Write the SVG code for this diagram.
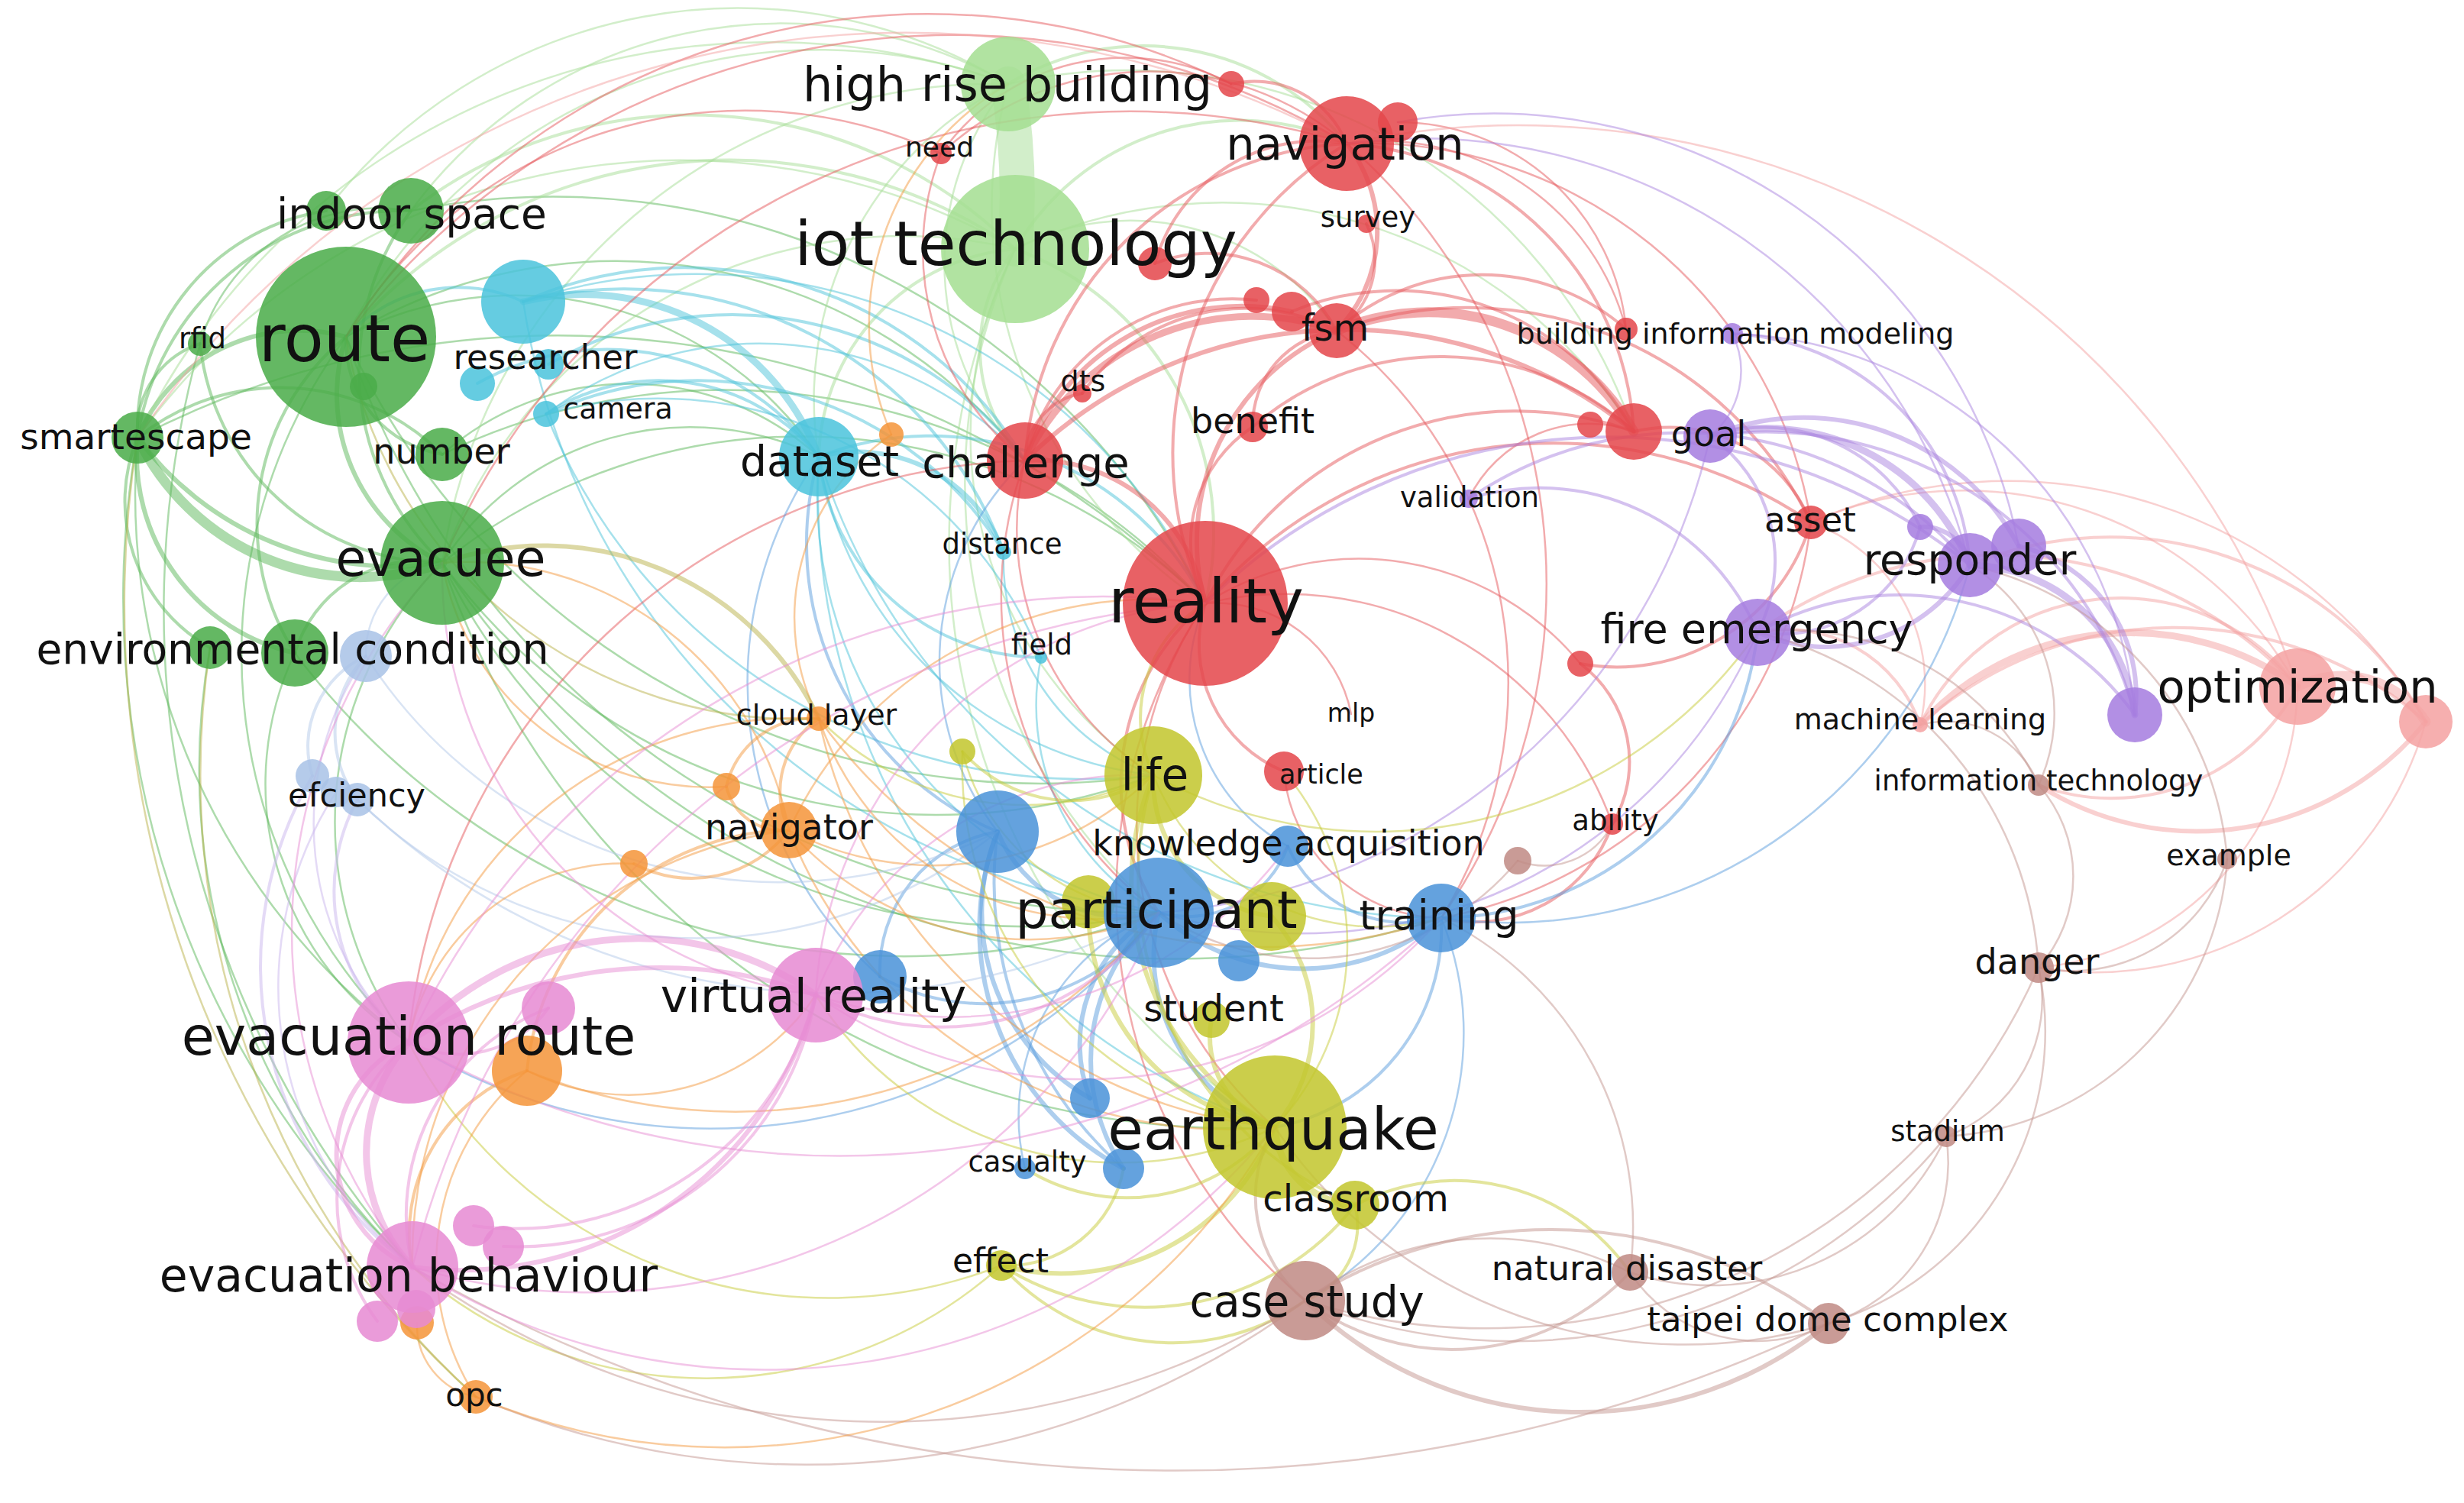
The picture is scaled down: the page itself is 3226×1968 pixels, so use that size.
<svg xmlns="http://www.w3.org/2000/svg" width="3226" height="1968" viewBox="0 0 3226 1968">
<style>
#connectors{fill:none;stroke-linecap:round;stroke-opacity:.5}
.cg{stroke:#5cb85a}.clg{stroke:#a6de95}.cc{stroke:#4dc4da}.cr{stroke:#e5575b}.clr{stroke:#f3a1a1}
.cp{stroke:#a983e0}.cb{stroke:#5b9ddd}.clb{stroke:#b3c9ea}.clv{stroke:#c9b6ee}.cy{stroke:#c8cc3a}
.cbr{stroke:#c3958f}.co{stroke:#f39a40}.col{stroke:#b9b24a}.cpk{stroke:#e88ed4}
.t1{stroke-width:2.5}.t2{stroke-width:4}.t3{stroke-width:6}.t4{stroke-width:9}.t5{stroke-width:13}.tb{stroke-width:46}
circle{fill-opacity:.86}
.fr{fill:#e4474c}.fg{fill:#4aac49}.fb{fill:#4b93d8}.fy{fill:#c2c62d}.fp{fill:#a57ddf}.fc{fill:#4cc4dc}
.fo{fill:#f4953a}.fbr{fill:#c08b85}.fpk{fill:#e68ad3}.flr{fill:#f5a2a2}.flg{fill:#a4de91}.flb{fill:#a9c3e6}
text{font-family:"DejaVu Sans",Verdana,sans-serif;fill:#111;text-anchor:middle}
</style>
<rect width="3226" height="1968" fill="#fff"/>
<g id="connectors">
<g class="cg">
<path class="t5" d="M579 737A323 323 0 0 1 180 573"/>
<path class="t3" d="M579 737A420 420 0 0 1 180 573"/>
<path class="t3" d="M180 573A230 230 0 0 1 453 441"/>
<path class="t2" d="M180 573A350 350 0 0 1 538 276"/>
<path class="t2" d="M180 573A120 120 0 0 1 262 450"/>
<path class="t2" d="M180 573A300 300 0 0 1 579 595"/>
<path class="t3" d="M386 855A265 265 0 0 1 180 573"/>
<path class="t2" d="M275 848A220 220 0 0 1 180 573"/>
<path class="t2" d="M579 737A320 320 0 0 1 262 450"/>
<path class="t3" d="M579 737A245 245 0 0 1 453 441"/>
<path class="t2" d="M386 855A315 315 0 0 1 453 441"/>
<path class="t2" d="M579 737A350 350 0 0 1 538 276"/>
<path class="t1" d="M535 1365A900 900 0 0 1 180 573"/>
<path class="t1" d="M540 1659A1300 1300 0 0 1 262 450"/>
<path class="t1" d="M540 1659A900 900 0 0 1 275 848"/>
<path class="t1" d="M535 1365A400 400 0 0 1 386 855"/>
<path class="t1" d="M535 1365A700 700 0 0 1 453 441"/>
<path class="t1" d="M535 1365A480 480 0 0 1 579 737"/>
<path class="t1" d="M579 737A385 385 0 0 1 1072 598"/>
<path class="t1" d="M453 441A480 480 0 0 1 1072 598"/>
<path class="t1" d="M453 441A680 680 0 0 1 1342 603"/>
<path class="t1" d="M579 737A750 750 0 0 1 1578 790"/>
<path class="t1" d="M579 595A370 370 0 0 1 1072 598"/>
<path class="t1" d="M540 1659A1200 1200 0 0 1 180 573"/>
<path class="t2" d="M180 573A290 290 0 0 1 427 276"/>
<path class="t1" d="M262 450A245 245 0 0 1 538 276"/>
<path class="t2" d="M579 595A150 150 0 0 1 453 441"/>
<path class="t2" d="M386 855A170 170 0 0 1 579 737"/>
<path class="t1" d="M1517 1195A850 850 0 0 1 579 737"/>
<path class="t1" d="M1510 1015A1000 1000 0 0 1 453 441"/>
<path class="t1" d="M1510 1015A800 800 0 0 1 579 737"/>
<path class="t1" d="M579 595A850 850 0 0 1 1578 790"/>
<path class="t1" d="M538 276A950 950 0 0 1 1578 790"/>
<path class="t1" d="M1887 1202A1150 1150 0 0 1 579 737"/>
<path class="t1" d="M1517 1195A1000 1000 0 0 1 386 855"/>
<path class="t1" d="M1517 1195A1100 1100 0 0 1 453 441"/>
<path class="t1" d="M1669 1476A1100 1100 0 0 1 579 737"/>
<path class="t1" d="M180 573A1200 1200 0 0 1 1578 790"/>
</g>
<g class="clg">
<path class="tb" d="M1320 110A900 900 0 0 1 1329 326"/>
<path class="t2" d="M538 276A600 600 0 0 1 1329 326"/>
<path class="t2" d="M453 441A660 660 0 0 1 1329 326"/>
<path class="t1" d="M538 276A600 600 0 0 1 1320 110"/>
<path class="t1" d="M180 573A920 920 0 0 1 1320 110"/>
<path class="t1" d="M579 737A640 640 0 0 1 1329 326"/>
<path class="t2" d="M1342 603A210 210 0 0 1 1329 326"/>
<path class="t2" d="M1072 598A280 280 0 0 1 1329 326"/>
<path class="t2" d="M1329 326A395 395 0 0 1 1578 790"/>
<path class="t2" d="M1320 110A340 340 0 0 1 1763 188"/>
<path class="t2" d="M1329 326A340 340 0 0 1 1763 188"/>
<path class="t1" d="M1510 1015A535 535 0 0 1 1329 326"/>
<path class="t1" d="M1329 326A325 325 0 0 1 1750 433"/>
<path class="t1" d="M453 441A700 700 0 0 1 1320 110"/>
<path class="t1" d="M579 737A730 730 0 0 1 1320 110"/>
<path class="t1" d="M1669 1476A900 900 0 0 1 1329 326"/>
<path class="t1" d="M1342 603A370 370 0 0 1 1320 110"/>
<path class="t1" d="M1329 326A635 635 0 0 1 2139 565"/>
<path class="t1" d="M1320 110A700 700 0 0 1 2139 565"/>
<path class="t1" d="M180 573A880 880 0 0 1 1329 326"/>
<path class="t1" d="M427 276A680 680 0 0 1 1320 110"/>
<path class="t1" d="M1072 598A460 460 0 0 1 1320 110"/>
<path class="t1" d="M1517 1195A750 750 0 0 1 1329 326"/>
<path class="t1" d="M1578 790A620 620 0 0 1 1320 110"/>
</g>
<g class="cc">
<path class="t4" d="M685 395A330 330 0 0 1 1072 598"/>
<path class="t2" d="M685 395A520 520 0 0 1 1342 603"/>
<path class="t2" d="M625 502A345 345 0 0 1 1072 598"/>
<path class="t2" d="M715 542A270 270 0 0 1 1072 598"/>
<path class="t3" d="M1072 598A205 205 0 0 1 1314 723"/>
<path class="t2" d="M685 395A530 530 0 0 1 1314 723"/>
<path class="t2" d="M1363 861A295 295 0 0 1 1072 598"/>
<path class="t2" d="M715 542A470 470 0 0 1 1314 723"/>
<path class="t2" d="M718 477A480 480 0 0 1 1342 603"/>
<path class="t1" d="M715 542A470 470 0 0 1 1342 603"/>
<path class="t1" d="M685 395A730 730 0 0 1 1578 790"/>
<path class="t1" d="M1517 1195A560 560 0 0 1 1072 598"/>
<path class="t2" d="M1072 598A405 405 0 0 1 1578 790"/>
<path class="t1" d="M715 542A540 540 0 0 1 1363 861"/>
<path class="t2" d="M453 441A200 200 0 0 1 685 395"/>
<path class="t1" d="M1510 1015A500 500 0 0 1 1072 598"/>
<path class="t1" d="M1517 1195A950 950 0 0 1 685 395"/>
<path class="t1" d="M1510 1015A760 760 0 0 1 715 542"/>
<path class="t1" d="M1669 1476A880 880 0 0 1 1072 598"/>
<path class="t1" d="M1517 1195A310 310 0 0 1 1363 861"/>
<path class="t1" d="M1510 1015A300 300 0 0 1 1314 723"/>
<path class="t1" d="M1887 1202A860 860 0 0 1 1072 598"/>
</g>
<g class="cr">
<path class="t3" d="M1763 188A185 185 0 0 1 1750 433"/>
<path class="t5" d="M1750 433A310 310 0 0 1 2139 565"/>
<path class="t4" d="M1342 603A330 330 0 0 1 1750 433"/>
<path class="t3" d="M1578 790A300 300 0 0 1 1750 433"/>
<path class="t2" d="M1342 603A445 445 0 0 1 1763 188"/>
<path class="t2" d="M1578 790A475 475 0 0 1 1763 188"/>
<path class="t3" d="M1342 603A300 300 0 0 1 1691 408"/>
<path class="t2" d="M1342 603A280 280 0 0 1 1645 393"/>
<path class="t3" d="M1342 603A225 225 0 0 1 1578 790"/>
<path class="t2" d="M1342 603A90 90 0 0 1 1417 515"/>
<path class="t2" d="M1417 515A260 260 0 0 1 1750 433"/>
<path class="t2" d="M1640 559A125 125 0 0 1 1750 433"/>
<path class="t2" d="M1578 790A180 180 0 0 1 1640 559"/>
<path class="t2" d="M1578 790A455 455 0 0 1 2139 565"/>
<path class="t2" d="M2139 565A200 200 0 0 1 2371 684"/>
<path class="t2" d="M1578 790A600 600 0 0 1 2371 684"/>
<path class="t2" d="M2371 684A265 265 0 0 1 2069 869"/>
<path class="t2" d="M2069 869A160 160 0 0 1 2111 1079"/>
<path class="t2" d="M2111 1079A190 190 0 0 1 1887 1202"/>
<path class="t2" d="M1681 1010A180 180 0 0 1 1578 790"/>
<path class="t1" d="M1232 201A295 295 0 0 1 1612 110"/>
<path class="t1" d="M453 441A610 610 0 0 1 1232 201"/>
<path class="t2" d="M1612 110A130 130 0 0 1 1763 188"/>
<path class="t2" d="M1512 345A190 190 0 0 1 1750 433"/>
<path class="t2" d="M1512 345A220 220 0 0 1 1763 188"/>
<path class="t2" d="M1789 293A110 110 0 0 1 1750 433"/>
<path class="t2" d="M1763 188A400 400 0 0 1 2139 565"/>
<path class="t1" d="M1830 160A300 300 0 0 1 2129 431"/>
<path class="t1" d="M1763 188A590 590 0 0 1 2371 684"/>
<path class="t3" d="M1342 603A600 600 0 0 1 2139 565"/>
<path class="t2" d="M1640 559A375 375 0 0 1 2139 565"/>
<path class="t2" d="M1691 408A355 355 0 0 1 2139 565"/>
<path class="t1" d="M1578 790A375 375 0 0 1 2069 869"/>
<path class="t1" d="M1578 790A180 180 0 0 1 1769 935"/>
<path class="t1" d="M1887 1202A210 210 0 0 1 1681 1010"/>
<path class="t1" d="M1923 653A175 175 0 0 1 2139 565"/>
<path class="t2" d="M1750 433A285 285 0 0 1 2129 431"/>
<path class="t1" d="M1763 188A330 330 0 0 1 2129 431"/>
<path class="t1" d="M1669 1476A520 520 0 0 1 1578 790"/>
<path class="t2" d="M1517 1195A310 310 0 0 1 1578 790"/>
<path class="t1" d="M1709 1703A690 690 0 0 1 1578 790"/>
<path class="t1" d="M1750 433A585 585 0 0 1 1887 1202"/>
<path class="t1" d="M1763 188A765 765 0 0 1 1887 1202"/>
<path class="t1" d="M453 441A900 900 0 0 1 1612 110"/>
<path class="t1" d="M579 737A980 980 0 0 1 1763 188"/>
<path class="t1" d="M535 1365A835 835 0 0 1 1342 603"/>
<path class="t1" d="M453 441A1000 1000 0 0 1 1763 188"/>
<path class="t1" d="M1578 790A455 455 0 0 1 2111 1079"/>
<path class="t2" d="M1750 433A500 500 0 0 1 2371 684"/>
<path class="t1" d="M1232 201A400 400 0 0 1 1763 188"/>
<path class="t1" d="M1517 1195A520 520 0 0 1 1342 603"/>
<path class="t1" d="M1510 1015A380 380 0 0 1 1342 603"/>
<path class="t1" d="M1342 603A350 350 0 0 1 1232 201"/>
<path class="t1" d="M2371 684A600 600 0 0 1 1887 1202"/>
</g>
<g class="clr">
<path class="t1" d="M1763 188A1075 1075 0 0 1 3008 899"/>
<path class="t1" d="M2371 684A500 500 0 0 1 3008 899"/>
<path class="t5" d="M3008 899A130 130 0 0 1 3176 945"/>
<path class="t4" d="M2514 949A375 375 0 0 1 3008 899"/>
<path class="t2" d="M2514 949A290 290 0 0 1 3008 899"/>
<path class="t2" d="M2514 949A500 500 0 0 1 3176 945"/>
<path class="t3" d="M3176 945A385 385 0 0 1 2669 1028"/>
<path class="t2" d="M3008 899A275 275 0 0 1 2669 1028"/>
<path class="t2" d="M2301 828A535 535 0 0 1 3008 899"/>
<path class="t2" d="M2579 740A475 475 0 0 1 3176 945"/>
<path class="t2" d="M2301 828A185 185 0 0 1 2514 949"/>
<path class="t1" d="M2371 684A225 225 0 0 1 2514 949"/>
<path class="t1" d="M3008 899A375 375 0 0 1 2669 1267"/>
<path class="t1" d="M3176 945A450 450 0 0 1 2669 1267"/>
<path class="t1" d="M2371 684A635 635 0 0 1 3176 945"/>
<path class="t1" d="M180 573A1220 1220 0 0 1 1763 188"/>
</g>
<g class="cp">
<path class="t4" d="M2239 571A285 285 0 0 1 2579 740"/>
<path class="t3" d="M2239 571A320 320 0 0 1 2643 715"/>
<path class="t2" d="M2239 571A200 200 0 0 1 2301 828"/>
<path class="t3" d="M2579 740A220 220 0 0 1 2301 828"/>
<path class="t4" d="M2579 740A220 220 0 0 1 2795 936"/>
<path class="t3" d="M2643 715A200 200 0 0 1 2795 936"/>
<path class="t2" d="M2301 828A380 380 0 0 1 2795 936"/>
<path class="t2" d="M2239 571A500 500 0 0 1 2795 936"/>
<path class="t3" d="M2514 690A62 62 0 0 1 2579 740"/>
<path class="t2" d="M2268 437A325 325 0 0 1 2579 740"/>
<path class="t2" d="M1923 653A495 495 0 0 1 2579 740"/>
<path class="t2" d="M1923 653A310 310 0 0 1 2301 828"/>
<path class="t1" d="M2268 437A545 545 0 0 1 2795 936"/>
<path class="t2" d="M1578 790A750 750 0 0 1 2579 740"/>
<path class="t1" d="M2301 828A650 650 0 0 1 1517 1195"/>
<path class="t2" d="M2239 571A225 225 0 0 1 2514 690"/>
<path class="t2" d="M2514 690A190 190 0 0 1 2301 828"/>
<path class="t1" d="M1763 188A740 740 0 0 1 2579 740"/>
<path class="t1" d="M1830 160A700 700 0 0 1 2643 715"/>
<path class="t1" d="M2268 437A110 110 0 0 1 2239 571"/>
<path class="t1" d="M2239 571A800 800 0 0 1 1517 1195"/>
</g>
<g class="cb">
<path class="t3" d="M1517 1195A180 180 0 0 1 1306 1089"/>
<path class="t3" d="M1887 1202A280 280 0 0 1 1517 1195"/>
<path class="t2" d="M1686 1108A140 140 0 0 1 1517 1195"/>
<path class="t3" d="M1669 1476A240 240 0 0 1 1517 1195"/>
<path class="t3" d="M1427 1438A195 195 0 0 1 1517 1195"/>
<path class="t3" d="M1471 1530A255 255 0 0 1 1517 1195"/>
<path class="t3" d="M1427 1438A280 280 0 0 1 1306 1089"/>
<path class="t3" d="M1471 1530A355 355 0 0 1 1306 1089"/>
<path class="t2" d="M1471 1530A500 500 0 0 1 1306 1089"/>
<path class="t2" d="M1517 1195A280 280 0 0 1 1152 1279"/>
<path class="t2" d="M1152 1279A185 185 0 0 1 1306 1089"/>
<path class="t2" d="M1887 1202A170 170 0 0 1 1686 1108"/>
<path class="t2" d="M2301 828A420 420 0 0 1 1887 1202"/>
<path class="t1" d="M2579 740A625 625 0 0 1 1887 1202"/>
<path class="t2" d="M1887 1202A265 265 0 0 1 1669 1476"/>
<path class="t1" d="M1517 1195A750 750 0 0 1 535 1365"/>
<path class="t2" d="M1306 1089A410 410 0 0 1 1072 598"/>
<path class="t1" d="M1342 1530A285 285 0 0 1 1517 1195"/>
<path class="t1" d="M1887 1202A400 400 0 0 1 1709 1703"/>
<path class="t1" d="M1686 1108A250 250 0 0 1 1578 790"/>
<path class="t1" d="M1306 1089A365 365 0 0 1 1342 603"/>
<path class="t1" d="M1152 1279A515 515 0 0 1 1072 598"/>
</g>
<g class="clb">
<path class="t1" d="M1306 1089A645 645 0 0 1 479 859"/>
<path class="t1" d="M1306 1089A630 630 0 0 1 468 1047"/>
<path class="t2" d="M409 1016A130 130 0 0 1 479 859"/>
<path class="t2" d="M468 1047A145 145 0 0 1 479 859"/>
<path class="t1" d="M479 859A120 120 0 0 1 579 737"/>
<path class="t1" d="M1517 1195A900 900 0 0 1 468 1047"/>
</g>
<g class="clv">
<path class="t2" d="M535 1365A250 250 0 0 1 468 1047"/>
<path class="t2" d="M540 1659A490 490 0 0 1 409 1016"/>
<path class="t1" d="M535 1365A390 390 0 0 1 479 859"/>
<path class="t1" d="M540 1659A470 470 0 0 1 440 1037"/>
</g>
<g class="cy">
<path class="t4" d="M1774 1578A110 110 0 0 1 1669 1476"/>
<path class="t3" d="M1669 1476A365 365 0 0 1 1510 1015"/>
<path class="t3" d="M1665 1200A210 210 0 0 1 1669 1476"/>
<path class="t3" d="M1669 1476A125 125 0 0 1 1586 1335"/>
<path class="t3" d="M1669 1476A300 300 0 0 1 1311 1657"/>
<path class="t2" d="M1774 1578A350 350 0 0 1 1311 1657"/>
<path class="t2" d="M1709 1703A300 300 0 0 1 1311 1657"/>
<path class="t1" d="M1311 1657A580 580 0 0 1 540 1659"/>
<path class="t3" d="M1665 1200A180 180 0 0 1 1510 1015"/>
<path class="t2" d="M1510 1015A190 190 0 0 1 1260 984"/>
<path class="t1" d="M1669 1476A480 480 0 0 1 1260 984"/>
<path class="t3" d="M1669 1476A290 290 0 0 1 1425 1181"/>
<path class="t2" d="M1774 1578A465 465 0 0 1 1510 1015"/>
<path class="t2" d="M1669 1476A250 250 0 0 1 1342 1530"/>
<path class="t2" d="M1471 1530A155 155 0 0 1 1311 1657"/>
<path class="t2" d="M1774 1578A105 105 0 0 1 1709 1703"/>
<path class="t2" d="M1510 1015A175 175 0 0 1 1578 790"/>
<path class="t1" d="M1669 1476A470 470 0 0 1 1068 1303"/>
<path class="t1" d="M1311 1657A620 620 0 0 1 535 1365"/>
<path class="t1" d="M1887 1202A315 315 0 0 1 1510 1015"/>
<path class="t1" d="M1681 1010A350 350 0 0 1 1669 1476"/>
<path class="t1" d="M2301 828A610 610 0 0 1 1510 1015"/>
<path class="t2" d="M1774 1578A280 280 0 0 1 2134 1666"/>
<path class="t1" d="M1510 1015A380 380 0 0 1 1072 941"/>
<path class="t1" d="M1517 1195A280 280 0 0 1 1260 984"/>
</g>
<g class="cbr">
<path class="t1" d="M2669 1028A180 180 0 0 1 2669 1267"/>
<path class="t1" d="M2916 1125A215 215 0 0 1 2669 1267"/>
<path class="t1" d="M2669 1267A190 190 0 0 1 2548 1488"/>
<path class="t1" d="M2548 1488A220 220 0 0 1 2394 1733"/>
<path class="t1" d="M2548 1488A340 340 0 0 1 2134 1666"/>
<path class="t3" d="M2394 1733A515 515 0 0 1 1709 1703"/>
<path class="t2" d="M1709 1703A600 600 0 0 1 2394 1733"/>
<path class="t2" d="M2134 1666A320 320 0 0 1 1709 1703"/>
<path class="t1" d="M1709 1703A400 400 0 0 1 2134 1666"/>
<path class="t1" d="M2394 1733A200 200 0 0 1 2134 1666"/>
<path class="t1" d="M1709 1703A1040 1040 0 0 1 540 1659"/>
<path class="t1" d="M2394 1733A2000 2000 0 0 1 540 1659"/>
<path class="t2" d="M1709 1703A175 175 0 0 1 1669 1476"/>
<path class="t1" d="M1709 1703A1100 1100 0 0 1 623 1829"/>
<path class="t1" d="M2669 1267A400 400 0 0 1 2394 1733"/>
<path class="t1" d="M2111 1079A100 100 0 0 1 1987 1127"/>
<path class="t1" d="M1987 1127A355 355 0 0 1 1517 1195"/>
<path class="t1" d="M2579 740A225 225 0 0 1 2669 1028"/>
<path class="t1" d="M2514 949A130 130 0 0 1 2669 1028"/>
<path class="t1" d="M2916 1125A390 390 0 0 1 2548 1488"/>
<path class="t1" d="M2669 1267A790 790 0 0 1 1709 1703"/>
<path class="t1" d="M2301 828A360 360 0 0 1 2669 1028"/>
<path class="t1" d="M2301 828A480 480 0 0 1 2669 1267"/>
<path class="t1" d="M2579 740A430 430 0 0 1 2916 1125"/>
<path class="t1" d="M2394 1733A650 650 0 0 1 1669 1476"/>
<path class="t1" d="M1887 1202A450 450 0 0 1 2134 1666"/>
<path class="t1" d="M2548 1488A730 730 0 0 1 1709 1703"/>
</g>
<g class="co">
<path class="t1" d="M579 737A430 430 0 0 1 1033 1087"/>
<path class="t2" d="M1033 1087A115 115 0 0 1 1072 941"/>
<path class="t2" d="M1033 1087A75 75 0 0 1 951 1030"/>
<path class="t2" d="M951 1030A115 115 0 0 1 1072 941"/>
<path class="t2" d="M1033 1087A160 160 0 0 1 830 1131"/>
<path class="t2" d="M690 1402A350 350 0 0 1 1033 1087"/>
<path class="t1" d="M535 1365A515 515 0 0 1 1072 941"/>
<path class="t1" d="M1072 941A290 290 0 0 1 1167 569"/>
<path class="t1" d="M1167 569A365 365 0 0 1 1320 110"/>
<path class="t1" d="M623 1829A325 325 0 0 1 690 1402"/>
<path class="t1" d="M623 1829A95 95 0 0 1 546 1732"/>
<path class="t1" d="M1669 1476A830 830 0 0 1 623 1829"/>
<path class="t2" d="M540 1659A225 225 0 0 1 690 1402"/>
<path class="t1" d="M540 1659A565 565 0 0 1 1033 1087"/>
<path class="t1" d="M1068 1303A295 295 0 0 1 690 1402"/>
<path class="t1" d="M535 1365A285 285 0 0 1 830 1131"/>
<path class="t1" d="M1517 1195A385 385 0 0 1 1072 941"/>
<path class="t1" d="M951 1030A355 355 0 0 1 579 737"/>
<path class="t1" d="M1517 1195A420 420 0 0 1 1033 1087"/>
<path class="t1" d="M1510 1015A410 410 0 0 1 1033 1087"/>
<path class="t1" d="M1887 1202A720 720 0 0 1 1072 941"/>
<path class="t1" d="M1669 1476A620 620 0 0 1 1033 1087"/>
<path class="t1" d="M1033 1087A520 520 0 0 1 1578 790"/>
<path class="t1" d="M1517 1195A720 720 0 0 1 690 1402"/>
<path class="t1" d="M1669 1476A680 680 0 0 1 1072 941"/>
</g>
<g class="col">
<path class="t3" d="M579 737A400 400 0 0 1 1072 941"/>
<path class="t1" d="M1072 941A600 600 0 0 1 453 441"/>
<path class="t1" d="M623 1829A1400 1400 0 0 1 180 573"/>
<path class="t1" d="M623 1829A1100 1100 0 0 1 275 848"/>
</g>
<g class="cpk">
<path class="t4" d="M540 1659A216 216 0 0 1 535 1365"/>
<path class="t3" d="M540 1659A160 160 0 0 1 535 1365"/>
<path class="t4" d="M535 1365A400 400 0 0 1 1068 1303"/>
<path class="t3" d="M535 1365A600 600 0 0 1 1068 1303"/>
<path class="t3" d="M1068 1303A480 480 0 0 1 540 1659"/>
<path class="t2" d="M1068 1303A405 405 0 0 1 620 1605"/>
<path class="t2" d="M1068 1303A395 395 0 0 1 659 1632"/>
<path class="t2" d="M718 1320A145 145 0 0 1 535 1365"/>
<path class="t2" d="M540 1659A290 290 0 0 1 718 1320"/>
<path class="t2" d="M494 1730A270 270 0 0 1 535 1365"/>
<path class="t2" d="M1517 1195A345 345 0 0 1 1068 1303"/>
<path class="t1" d="M1517 1195A810 810 0 0 1 540 1659"/>
<path class="t1" d="M1669 1476A860 860 0 0 1 540 1659"/>
<path class="t1" d="M1068 1303A545 545 0 0 1 1578 790"/>
<path class="t1" d="M1887 1202A620 620 0 0 1 1068 1303"/>
<path class="t1" d="M540 1659A690 690 0 0 1 579 737"/>
<path class="t1" d="M1068 1303A560 560 0 0 1 579 737"/>
<path class="t1" d="M1068 1303A450 450 0 0 1 1510 1015"/>
<path class="t1" d="M535 1365A1000 1000 0 0 1 1578 790"/>
<path class="t1" d="M1887 1202A1150 1150 0 0 1 535 1365"/>
<path class="t1" d="M1686 1108A550 550 0 0 1 1068 1303"/>
<path class="t1" d="M540 1659A1150 1150 0 0 1 1578 790"/>
</g>
</g>
<g id="nodes">
<g id="node-nav2"><circle class="fr" cx="1830" cy="160" r="26"/></g>
<g id="node-fsm2"><circle class="fr" cx="1691" cy="408" r="26"/></g>
<g id="node-fsm3"><circle class="fr" cx="1645" cy="393" r="17"/></g>
<g id="node-goal-red"><circle class="fr" cx="2139" cy="565" r="37"/></g>
<g id="node-goal-red2"><circle class="fr" cx="2082" cy="556" r="17"/></g>
<g id="node-hrb-red"><circle class="fr" cx="1612" cy="110" r="17"/></g>
<g id="node-iot-red"><circle class="fr" cx="1512" cy="345" r="22"/></g>
<g id="node-bim-red"><circle class="fr" cx="2129" cy="431" r="15"/></g>
<g id="node-fire-red"><circle class="fr" cx="2069" cy="869" r="17"/></g>
<g id="node-route-in"><circle class="fg" cx="476" cy="506" r="18"/></g>
<g id="node-indoor2"><circle class="fg" cx="427" cy="276" r="26"/></g>
<g id="node-env2"><circle class="fg" cx="275" cy="848" r="28"/></g>
<g id="node-blue-big"><circle class="fb" cx="1306" cy="1089" r="54"/></g>
<g id="node-blue4"><circle class="fb" cx="1622" cy="1258" r="27"/></g>
<g id="node-vr-blue"><circle class="fb" cx="1152" cy="1279" r="35"/></g>
<g id="node-blue-eq"><circle class="fb" cx="1427" cy="1438" r="26"/></g>
<g id="node-casualty-b"><circle class="fb" cx="1471" cy="1530" r="27"/></g>
<g id="node-part-y"><circle class="fy" cx="1665" cy="1200" r="45"/></g>
<g id="node-part-y2"><circle class="fy" cx="1425" cy="1181" r="35"/></g>
<g id="node-yg-small"><circle class="fy" cx="1260" cy="984" r="17"/></g>
<g id="node-resp2"><circle class="fp" cx="2643" cy="715" r="36"/></g>
<g id="node-resp3"><circle class="fp" cx="2514" cy="690" r="17"/></g>
<g id="node-opt-p"><circle class="fp" cx="2795" cy="936" r="36"/></g>
<g id="node-res-big"><circle class="fc" cx="685" cy="395" r="55"/></g>
<g id="node-res2"><circle class="fc" cx="625" cy="502" r="23"/></g>
<g id="node-ds-orange"><circle class="fo" cx="1167" cy="569" r="16"/></g>
<g id="node-orange2"><circle class="fo" cx="951" cy="1030" r="18"/></g>
<g id="node-orange3"><circle class="fo" cx="830" cy="1131" r="18"/></g>
<g id="node-er-orange"><circle class="fo" cx="690" cy="1402" r="46"/></g>
<g id="node-eb-orange"><circle class="fo" cx="546" cy="1732" r="22"/></g>
<g id="node-brown-small"><circle class="fbr" cx="1987" cy="1127" r="18"/></g>
<g id="node-er2"><circle class="fpk" cx="718" cy="1320" r="35"/></g>
<g id="node-eb2"><circle class="fpk" cx="620" cy="1605" r="27"/></g>
<g id="node-eb3"><circle class="fpk" cx="659" cy="1632" r="27"/></g>
<g id="node-eb4"><circle class="fpk" cx="494" cy="1730" r="27"/></g>
<g id="node-eb5"><circle class="fpk" cx="545" cy="1714" r="25"/></g>
<g id="node-opt2"><circle class="flr" cx="3176" cy="945" r="35"/></g>
<g id="node-env-lb"><circle class="flb" cx="479" cy="859" r="34"/></g>
<g id="node-ef1"><circle class="flb" cx="409" cy="1016" r="22"/></g>
<g id="node-ef2"><circle class="flb" cx="440" cy="1037" r="20"/></g>

<g id="node-route"><circle class="fg" cx="453" cy="441" r="118"/><text x="451" y="473" font-size="85">route</text></g>
<g id="node-reality"><circle class="fr" cx="1578" cy="790" r="108"/><text x="1579" y="815" font-size="81">reality</text></g>
<g id="node-iot-technology"><circle class="flg" cx="1329" cy="326" r="97"/><text x="1330" y="347" font-size="81">iot technology</text></g>
<g id="node-earthquake"><circle class="fy" cx="1669" cy="1476" r="94"/><text x="1667" y="1505" font-size="76">earthquake</text></g>
<g id="node-evacuee"><circle class="fg" cx="579" cy="737" r="81"/><text x="577" y="754" font-size="65">evacuee</text></g>
<g id="node-evacuation-route"><circle class="fpk" cx="535" cy="1365" r="80"/><text x="535" y="1381" font-size="70">evacuation route</text></g>
<g id="node-participant"><circle class="fb" cx="1517" cy="1195" r="72"/><text x="1514" y="1215" font-size="68">participant</text></g>
<g id="node-life"><circle class="fy" cx="1510" cy="1015" r="64"/><text x="1512" y="1035" font-size="58">life</text></g>
<g id="node-navigation"><circle class="fr" cx="1763" cy="188" r="62"/><text x="1761" y="209" font-size="59">navigation</text></g>
<g id="node-high-rise-building"><circle class="flg" cx="1320" cy="110" r="62"/><text x="1319" y="132" font-size="62">high rise building</text></g>
<g id="node-virtual-reality"><circle class="fpk" cx="1068" cy="1303" r="62"/><text x="1065" y="1325" font-size="60">virtual reality</text></g>
<g id="node-evacuation-behaviour"><circle class="fpk" cx="540" cy="1659" r="60"/><text x="535" y="1691" font-size="60">evacuation behaviour</text></g>
<g id="node-dataset"><circle class="fc" cx="1072" cy="598" r="52"/><text x="1073" y="623" font-size="55">dataset</text></g>
<g id="node-case-study"><circle class="fbr" cx="1709" cy="1703" r="52"/><text x="1711" y="1724" font-size="57">case study</text></g>
<g id="node-challenge"><circle class="fr" cx="1342" cy="603" r="50"/><text x="1343" y="625" font-size="56">challenge</text></g>
<g id="node-optimization"><circle class="flr" cx="3008" cy="899" r="50"/><text x="3008" y="920" font-size="59">optimization</text></g>
<g id="node-training"><circle class="fb" cx="1887" cy="1202" r="45"/><text x="1884" y="1217" font-size="54">training</text></g>
<g id="node-environmental-condition"><circle class="fg" cx="386" cy="855" r="44"/><text x="383" y="869" font-size="55">environmental condition</text></g>
<g id="node-fire-emergency"><circle class="fp" cx="2301" cy="828" r="44"/><text x="2300" y="842" font-size="54">fire emergency</text></g>
<g id="node-indoor-space"><circle class="fg" cx="538" cy="276" r="43"/><text x="539" y="299" font-size="55">indoor space</text></g>
<g id="node-responder"><circle class="fp" cx="2579" cy="740" r="42"/><text x="2579" y="752" font-size="55">responder</text></g>
<g id="node-navigator"><circle class="fo" cx="1033" cy="1087" r="37"/><text x="1033" y="1099" font-size="46">navigator</text></g>
<g id="node-fsm"><circle class="fr" cx="1750" cy="433" r="36"/><text x="1748" y="446" font-size="48">fsm</text></g>
<g id="node-number"><circle class="fg" cx="579" cy="595" r="35"/><text x="578" y="607" font-size="46">number</text></g>
<g id="node-goal"><circle class="fp" cx="2239" cy="571" r="35"/><text x="2237" y="584" font-size="46">goal</text></g>
<g id="node-smartescape"><circle class="fg" cx="180" cy="573" r="34"/><text x="178" y="588" font-size="47">smartescape</text></g>
<g id="node-classroom"><circle class="fy" cx="1774" cy="1578" r="32"/><text x="1775" y="1586" font-size="48">classroom</text></g>
<g id="node-knowledge-acquisition"><circle class="fb" cx="1686" cy="1108" r="27"/><text x="1687" y="1120" font-size="46">knowledge acquisition</text></g>
<g id="node-taipei-dome-complex"><circle class="fbr" cx="2394" cy="1733" r="27"/><text x="2393" y="1743" font-size="45">taipei dome complex</text></g>
<g id="node-article"><circle class="fr" cx="1681" cy="1010" r="26"/><text x="1730" y="1026" font-size="35">article</text></g>
<g id="node-natural-disaster"><circle class="fbr" cx="2134" cy="1666" r="24"/><text x="2130" y="1676" font-size="45">natural disaster</text></g>
<g id="node-student"><circle class="fy" cx="1586" cy="1335" r="24"/><text x="1589" y="1337" font-size="48">student</text></g>
<g id="node-asset"><circle class="fr" cx="2371" cy="684" r="22"/><text x="2370" y="696" font-size="45">asset</text></g>
<g id="node-opc"><circle class="fo" cx="623" cy="1829" r="22"/><text x="621" y="1841" font-size="42">opc</text></g>
<g id="node-efciency"><circle class="flb" cx="468" cy="1047" r="22"/><text x="467" y="1056" font-size="43">efciency</text></g>
<g id="node-effect"><circle class="fy" cx="1311" cy="1657" r="20"/><text x="1310" y="1666" font-size="44">effect</text></g>
<g id="node-researcher"><circle class="fc" cx="718" cy="477" r="20"/><text x="714" y="483" font-size="45">researcher</text></g>
<g id="node-benefit"><circle class="fr" cx="1640" cy="559" r="20"/><text x="1640" y="567" font-size="46">benefit</text></g>
<g id="node-danger"><circle class="fbr" cx="2669" cy="1267" r="20"/><text x="2667" y="1275" font-size="46">danger</text></g>
<g id="node-camera"><circle class="fc" cx="715" cy="542" r="17"/><text x="809" y="548" font-size="38">camera</text></g>
<g id="node-cloud-layer"><circle class="fo" cx="1072" cy="941" r="16"/><text x="1069" y="949" font-size="38">cloud layer</text></g>
<g id="node-rfid"><circle class="fg" cx="262" cy="450" r="16"/><text x="265" y="456" font-size="37">rfid</text></g>
<g id="node-building-information-modeling"><circle class="fp" cx="2268" cy="437" r="14"/><text x="2272" y="450" font-size="38">building information modeling</text></g>
<g id="node-need"><circle class="fr" cx="1232" cy="201" r="14"/><text x="1230" y="205" font-size="36">need</text></g>
<g id="node-ability"><circle class="fr" cx="2111" cy="1079" r="14"/><text x="2115" y="1087" font-size="37">ability</text></g>
<g id="node-casualty"><circle class="fb" cx="1342" cy="1530" r="14"/><text x="1345" y="1534" font-size="37">casualty</text></g>
<g id="node-stadium"><circle class="fbr" cx="2548" cy="1488" r="14"/><text x="2550" y="1494" font-size="37">stadium</text></g>
<g id="node-information-technology"><circle class="fbr" cx="2669" cy="1028" r="14"/><text x="2669" y="1035" font-size="37">information technology</text></g>
<g id="node-example"><circle class="fbr" cx="2916" cy="1125" r="13"/><text x="2918" y="1133" font-size="38">example</text></g>
<g id="node-dts"><circle class="fr" cx="1417" cy="515" r="12"/><text x="1418" y="512" font-size="38">dts</text></g>
<g id="node-survey"><circle class="fr" cx="1789" cy="293" r="12"/><text x="1791" y="297" font-size="37">survey</text></g>
<g id="node-validation"><circle class="fp" cx="1923" cy="653" r="12"/><text x="1924" y="664" font-size="37">validation</text></g>
<g id="node-distance"><circle class="fc" cx="1314" cy="723" r="10"/><text x="1312" y="725" font-size="37">distance</text></g>
<g id="node-machine-learning"><circle class="flr" cx="2514" cy="949" r="10"/><text x="2514" y="955" font-size="38">machine learning</text></g>
<g id="node-field"><circle class="fc" cx="1363" cy="861" r="8"/><text x="1364" y="857" font-size="37">field</text></g>
<g id="node-mlp"><text x="1769" y="945" font-size="33">mlp</text></g>
</g>
</svg>
